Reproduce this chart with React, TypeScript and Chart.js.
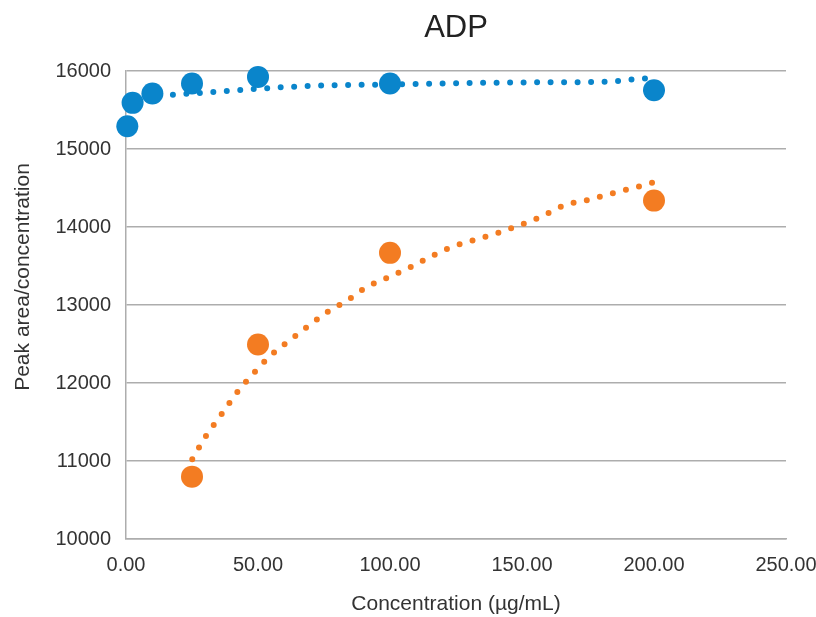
import React, { useEffect, useRef } from "react";
import { Chart, registerables } from "chart.js";

Chart.register(...registerables);

const chartTitle = "ADP";
const xAxisTitle = "Concentration (µg/mL)";
const yAxisTitle = "Peak area/concentration";

const blueX = [0.5, 2.5, 10, 25, 50, 100, 200];
const blueY = [15295, 15594, 15714, 15842, 15927, 15842, 15756];

const orangeX = [25, 50, 100, 200];
const orangeY = [10800, 12495, 13670, 14340];

// trendlines
const blueTrendX = [2.5, 10, 16, 32, 47, 69, 100, 130, 160, 184, 192, 200];
const blueTrendY = [15650, 15680, 15695, 15730, 15768, 15810, 15830, 15848, 15858, 15868, 15895, 15915];

const orangeTrendX = [25.1, 30.3, 36, 42.2, 47.7, 54.8, 62.1, 69, 76.2, 84, 90.9, 99, 107.6, 114.9, 122, 141.7, 156.8, 166.3, 174.7, 184, 193.7, 200];
const orangeTrendY = [11022, 11321, 11590, 11885, 12103, 12355, 12551, 12731, 12910, 13064, 13227, 13350, 13483, 13612, 13727, 13936, 14128, 14282, 14346, 14432, 14517, 14575];

const xMin = 0, xMax = 250, xStep = 50;
const yMin = 10000, yMax = 16000, yStep = 1000;

const BLUE = "#0A85CB";
const ORANGE = "#F37C22";
const GRID = "#ADADAD";
const TEXT = "#333333";
const FONT = "'Liberation Sans', Arial, sans-serif";

const zip = (xs: number[], ys: number[]) => xs.map((x, i) => ({ x, y: ys[i] }));

const yTitlePlugin = {
  id: "yTitle",
  afterDraw(chart: any) {
    const ctx = chart.ctx;
    ctx.save();
    ctx.translate(23, 277);
    ctx.rotate(-Math.PI / 2);
    ctx.fillStyle = TEXT;
    ctx.font = `21px ${FONT}`;
    ctx.textAlign = "center";
    ctx.textBaseline = "middle";
    ctx.fillText(yAxisTitle, 0, 0);
    ctx.restore();
  },
};

export default function App() {
  const ref = useRef<HTMLCanvasElement | null>(null);
  useEffect(() => {
    if (!ref.current) return;
    const trendStyle = (color: string) => ({
      type: "line" as const,
      showLine: true,
      borderColor: color,
      backgroundColor: color,
      borderWidth: 6,
      borderDash: [0, 13.5],
      borderCapStyle: "round" as const,
      pointRadius: 0,
      cubicInterpolationMode: "monotone" as const,
      fill: false,
      clip: false,
      order: 2,
    });
    const chart = new Chart(ref.current, {
      type: "scatter",
      data: {
        datasets: [
          { ...trendStyle(BLUE), data: zip(blueTrendX, blueTrendY) },
          { ...trendStyle(ORANGE), data: zip(orangeTrendX, orangeTrendY) },
          {
            type: "scatter",
            data: zip(blueX, blueY),
            backgroundColor: BLUE,
            borderColor: BLUE,
            borderWidth: 0,
            pointRadius: 11,
            clip: false,
            order: 1,
          },
          {
            type: "scatter",
            data: zip(orangeX, orangeY),
            backgroundColor: ORANGE,
            borderColor: ORANGE,
            borderWidth: 0,
            pointRadius: 11,
            clip: false,
            order: 1,
          },
        ],
      } as any,
      options: {
        responsive: false,
        animation: false,
        layout: { padding: { left: 0, right: 0, top: 0, bottom: 0 } },
        plugins: {
          legend: { display: false },
          tooltip: { enabled: false },
          title: {
            display: true,
            text: chartTitle,
            fullSize: false,
            color: "#222222",
            font: { family: FONT, size: 31, weight: "normal" },
            padding: { top: 10, bottom: 24 },
          },
        },
        scales: {
          x: {
            type: "linear",
            min: xMin,
            max: xMax,
            grid: { display: false, drawTicks: false },
            border: { display: true, color: GRID, width: 1.5 },
            ticks: {
              stepSize: xStep,
              color: TEXT,
              padding: 14,
              maxRotation: 0,
              font: { family: FONT, size: 20 },
              callback: (v: any) => Number(v).toFixed(2),
            },
            title: {
              display: true,
              text: xAxisTitle,
              color: TEXT,
              font: { family: FONT, size: 21 },
              padding: { top: 0, bottom: 0 },
            },
            afterFit: (s: any) => {
              s.height = 78;
              s.paddingLeft = 0;
              s.paddingRight = 30;
            },
          },
          y: {
            type: "linear",
            min: yMin,
            max: yMax,
            grid: { display: true, color: GRID, lineWidth: 1.5, drawTicks: false },
            border: { display: true, color: GRID, width: 1.5 },
            ticks: {
              stepSize: yStep,
              color: TEXT,
              padding: 15,
              font: { family: FONT, size: 20 },
              callback: (v: any) => String(v),
            },
            title: { display: false },
            afterFit: (s: any) => { s.width = 126; },
          },
        },
      } as any,
      plugins: [yTitlePlugin],
    });
    return () => chart.destroy();
  }, []);
  return (
    <canvas
      ref={ref}
      width={816}
      height={617}
      style={{ position: "absolute", left: 0, top: 0, display: "block", background: "#ffffff" }}
    />
  );
}
